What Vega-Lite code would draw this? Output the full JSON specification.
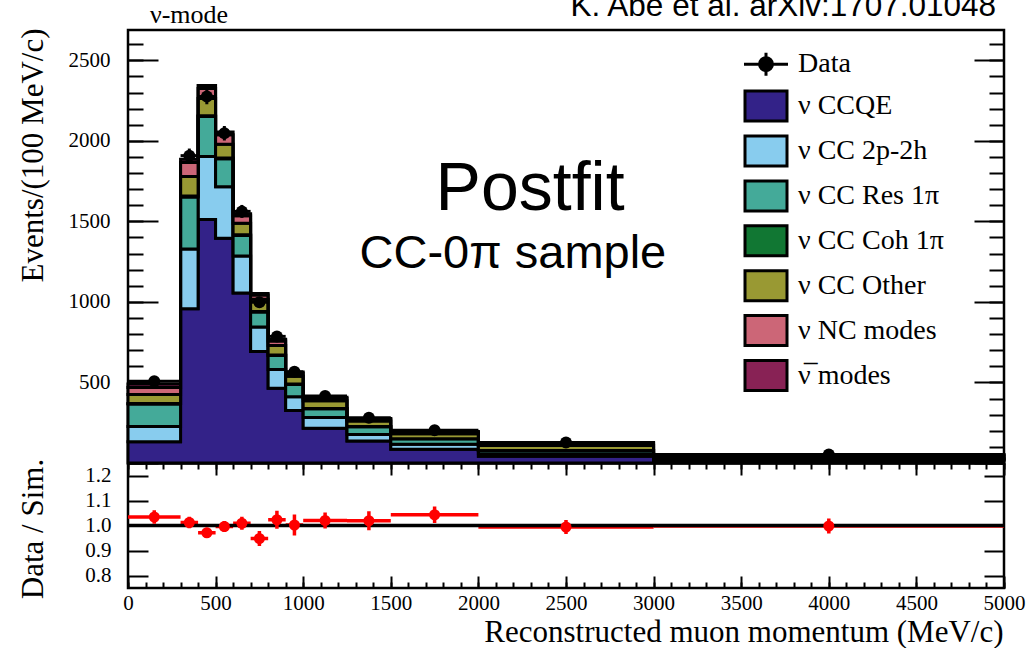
{
  "$schema": "https://vega.github.io/schema/vega-lite/v6.json",
  "width": 876,
  "height": 558,
  "autosize": {"type": "none"},
  "padding": {"left": 128, "top": 30, "right": 25, "bottom": 60},
  "background": "white",
  "config": {
    "view": {"stroke": "black", "strokeWidth": 2.5, "fill": "white"},
    "axis": {
      "grid": false, "domain": false, "tickColor": "black", "tickWidth": 2,
      "labelFont": "Liberation Serif", "labelFontSize": 21, "labelColor": "black",
      "titleFont": "Liberation Serif", "titleFontSize": 31, "titleFontWeight": "normal", "titleColor": "black",
      "labelFlush": false, "labelOverlap": false, "labelBound": false, "zindex": 1
    }
  },
  "datasets": {
    "mc": [
      {"p": 0, "m": "ν CCQE", "k": 1, "n": 132}, {"p": 0, "m": "ν CC 2p-2h", "k": 2, "n": 95}, {"p": 0, "m": "ν CC Res 1π", "k": 3, "n": 139}, {"p": 0, "m": "ν CC Coh 1π", "k": 4, "n": 3}, {"p": 0, "m": "ν CC Other", "k": 5, "n": 56}, {"p": 0, "m": "ν NC modes", "k": 6, "n": 44}, {"p": 0, "m": "ν̅ modes", "k": 7, "n": 21},
      {"p": 300, "m": "ν CCQE", "k": 1, "n": 957}, {"p": 300, "m": "ν CC 2p-2h", "k": 2, "n": 372}, {"p": 300, "m": "ν CC Res 1π", "k": 3, "n": 323}, {"p": 300, "m": "ν CC Coh 1π", "k": 4, "n": 6}, {"p": 300, "m": "ν CC Other", "k": 5, "n": 120}, {"p": 300, "m": "ν NC modes", "k": 6, "n": 87}, {"p": 300, "m": "ν̅ modes", "k": 7, "n": 20},
      {"p": 400, "m": "ν CCQE", "k": 1, "n": 1512}, {"p": 400, "m": "ν CC 2p-2h", "k": 2, "n": 391}, {"p": 400, "m": "ν CC Res 1π", "k": 3, "n": 248}, {"p": 400, "m": "ν CC Coh 1π", "k": 4, "n": 5}, {"p": 400, "m": "ν CC Other", "k": 5, "n": 106}, {"p": 400, "m": "ν NC modes", "k": 6, "n": 63}, {"p": 400, "m": "ν̅ modes", "k": 7, "n": 18},
      {"p": 500, "m": "ν CCQE", "k": 1, "n": 1395}, {"p": 500, "m": "ν CC 2p-2h", "k": 2, "n": 320}, {"p": 500, "m": "ν CC Res 1π", "k": 3, "n": 173}, {"p": 500, "m": "ν CC Coh 1π", "k": 4, "n": 5}, {"p": 500, "m": "ν CC Other", "k": 5, "n": 85}, {"p": 500, "m": "ν NC modes", "k": 6, "n": 60}, {"p": 500, "m": "ν̅ modes", "k": 7, "n": 17},
      {"p": 600, "m": "ν CCQE", "k": 1, "n": 1055}, {"p": 600, "m": "ν CC 2p-2h", "k": 2, "n": 230}, {"p": 600, "m": "ν CC Res 1π", "k": 3, "n": 127}, {"p": 600, "m": "ν CC Coh 1π", "k": 4, "n": 5}, {"p": 600, "m": "ν CC Other", "k": 5, "n": 72}, {"p": 600, "m": "ν NC modes", "k": 6, "n": 46}, {"p": 600, "m": "ν̅ modes", "k": 7, "n": 13},
      {"p": 700, "m": "ν CCQE", "k": 1, "n": 692}, {"p": 700, "m": "ν CC 2p-2h", "k": 2, "n": 152}, {"p": 700, "m": "ν CC Res 1π", "k": 3, "n": 93}, {"p": 700, "m": "ν CC Coh 1π", "k": 4, "n": 4}, {"p": 700, "m": "ν CC Other", "k": 5, "n": 75}, {"p": 700, "m": "ν NC modes", "k": 6, "n": 27}, {"p": 700, "m": "ν̅ modes", "k": 7, "n": 10},
      {"p": 800, "m": "ν CCQE", "k": 1, "n": 464}, {"p": 800, "m": "ν CC 2p-2h", "k": 2, "n": 116}, {"p": 800, "m": "ν CC Res 1π", "k": 3, "n": 88}, {"p": 800, "m": "ν CC Coh 1π", "k": 4, "n": 3}, {"p": 800, "m": "ν CC Other", "k": 5, "n": 59}, {"p": 800, "m": "ν NC modes", "k": 6, "n": 28}, {"p": 800, "m": "ν̅ modes", "k": 7, "n": 10},
      {"p": 900, "m": "ν CCQE", "k": 1, "n": 326}, {"p": 900, "m": "ν CC 2p-2h", "k": 2, "n": 85}, {"p": 900, "m": "ν CC Res 1π", "k": 3, "n": 76}, {"p": 900, "m": "ν CC Coh 1π", "k": 4, "n": 3}, {"p": 900, "m": "ν CC Other", "k": 5, "n": 48}, {"p": 900, "m": "ν NC modes", "k": 6, "n": 19}, {"p": 900, "m": "ν̅ modes", "k": 7, "n": 8},
      {"p": 1000, "m": "ν CCQE", "k": 1, "n": 215}, {"p": 1000, "m": "ν CC 2p-2h", "k": 2, "n": 68}, {"p": 1000, "m": "ν CC Res 1π", "k": 3, "n": 54}, {"p": 1000, "m": "ν CC Coh 1π", "k": 4, "n": 2}, {"p": 1000, "m": "ν CC Other", "k": 5, "n": 47}, {"p": 1000, "m": "ν NC modes", "k": 6, "n": 15}, {"p": 1000, "m": "ν̅ modes", "k": 7, "n": 7},
      {"p": 1250, "m": "ν CCQE", "k": 1, "n": 136}, {"p": 1250, "m": "ν CC 2p-2h", "k": 2, "n": 41}, {"p": 1250, "m": "ν CC Res 1π", "k": 3, "n": 48}, {"p": 1250, "m": "ν CC Coh 1π", "k": 4, "n": 2}, {"p": 1250, "m": "ν CC Other", "k": 5, "n": 33}, {"p": 1250, "m": "ν NC modes", "k": 6, "n": 11}, {"p": 1250, "m": "ν̅ modes", "k": 7, "n": 5},
      {"p": 1500, "m": "ν CCQE", "k": 1, "n": 85}, {"p": 1500, "m": "ν CC 2p-2h", "k": 2, "n": 32}, {"p": 1500, "m": "ν CC Res 1π", "k": 3, "n": 33}, {"p": 1500, "m": "ν CC Coh 1π", "k": 4, "n": 1}, {"p": 1500, "m": "ν CC Other", "k": 5, "n": 30}, {"p": 1500, "m": "ν NC modes", "k": 6, "n": 10}, {"p": 1500, "m": "ν̅ modes", "k": 7, "n": 4},
      {"p": 2000, "m": "ν CCQE", "k": 1, "n": 42}, {"p": 2000, "m": "ν CC 2p-2h", "k": 2, "n": 15}, {"p": 2000, "m": "ν CC Res 1π", "k": 3, "n": 20}, {"p": 2000, "m": "ν CC Coh 1π", "k": 4, "n": 1}, {"p": 2000, "m": "ν CC Other", "k": 5, "n": 30}, {"p": 2000, "m": "ν NC modes", "k": 6, "n": 12}, {"p": 2000, "m": "ν̅ modes", "k": 7, "n": 8},
      {"p": 3000, "m": "ν CCQE", "k": 1, "n": 17}, {"p": 3000, "m": "ν CC 2p-2h", "k": 2, "n": 5}, {"p": 3000, "m": "ν CC Res 1π", "k": 3, "n": 7}, {"p": 3000, "m": "ν CC Coh 1π", "k": 4, "n": 1}, {"p": 3000, "m": "ν CC Other", "k": 5, "n": 13}, {"p": 3000, "m": "ν NC modes", "k": 6, "n": 6}, {"p": 3000, "m": "ν̅ modes", "k": 7, "n": 4},
      {"p": 5000, "m": "ν CCQE", "k": 1, "n": 17}, {"p": 5000, "m": "ν CC 2p-2h", "k": 2, "n": 5}, {"p": 5000, "m": "ν CC Res 1π", "k": 3, "n": 7}, {"p": 5000, "m": "ν CC Coh 1π", "k": 4, "n": 1}, {"p": 5000, "m": "ν CC Other", "k": 5, "n": 13}, {"p": 5000, "m": "ν NC modes", "k": 6, "n": 6}, {"p": 5000, "m": "ν̅ modes", "k": 7, "n": 4}
    ],
    "obs": [
      {"lo": 0, "hi": 300, "mid": 150, "n": 507, "e": 13, "r": 1.034, "re": 0.027},
      {"lo": 300, "hi": 400, "mid": 350, "n": 1908, "e": 44, "r": 1.012, "re": 0.023},
      {"lo": 400, "hi": 500, "mid": 450, "n": 2275, "e": 48, "r": 0.971, "re": 0.02},
      {"lo": 500, "hi": 600, "mid": 550, "n": 2047, "e": 45, "r": 0.996, "re": 0.022},
      {"lo": 600, "hi": 700, "mid": 650, "n": 1562, "e": 40, "r": 1.009, "re": 0.026},
      {"lo": 700, "hi": 800, "mid": 750, "n": 998, "e": 32, "r": 0.948, "re": 0.03},
      {"lo": 800, "hi": 900, "mid": 850, "n": 786, "e": 28, "r": 1.023, "re": 0.036},
      {"lo": 900, "hi": 1000, "mid": 950, "n": 566, "e": 24, "r": 1.002, "re": 0.042},
      {"lo": 1000, "hi": 1250, "mid": 1125, "n": 416, "e": 13, "r": 1.02, "re": 0.032},
      {"lo": 1250, "hi": 1500, "mid": 1375, "n": 281, "e": 11, "r": 1.019, "re": 0.038},
      {"lo": 1500, "hi": 2000, "mid": 1750, "n": 203, "e": 6.4, "r": 1.043, "re": 0.033},
      {"lo": 2000, "hi": 3000, "mid": 2500, "n": 127, "e": 3.6, "r": 0.994, "re": 0.028},
      {"lo": 3000, "hi": 5000, "mid": 4000, "n": 53, "e": 1.6, "r": 0.998, "re": 0.03}
    ]
  },
  "layer": [
    {
      "layer": [
        {
          "data": {"name": "mc"},
          "mark": {"type": "area", "interpolate": "step-after", "stroke": "black", "strokeWidth": 3, "opacity": 1, "fillOpacity": 1},
          "encoding": {
            "x": {"field": "p", "type": "quantitative", "scale": {"domain": [0, 5000], "nice": false, "zero": false}, "axis": null},
            "y": {
              "field": "n", "type": "quantitative", "stack": "zero",
              "scale": {"domain": [0, 2688], "range": [433, 0], "nice": false, "zero": false},
              "axis": {"orient": "left", "values": [500, 1000, 1500, 2000, 2500], "format": "d", "ticks": false, "labelPadding": 18,
                       "title": "Events/(100 MeV/c)", "titleAngle": -90, "titleAlign": "right", "titleBaseline": "alphabetic", "titleX": -86, "titleY": -2}
            },
            "color": {
              "field": "m", "type": "nominal",
              "scale": {
                "domain": ["Data", "ν CCQE", "ν CC 2p-2h", "ν CC Res 1π", "ν CC Coh 1π", "ν CC Other", "ν NC modes", "ν̅ modes"],
                "range": ["#000000", "#332288", "#88CCEE", "#44AA99", "#117733", "#999933", "#CC6677", "#882255"]
              },
              "legend": {
                "orient": "none", "legendX": 621.5, "legendY": 17.7, "direction": "vertical", "title": null, "padding": 0,
                "rowPadding": 1.9, "symbolSize": 900, "symbolType": "M-1.4,-1H1.4V1H-1.4Z",
                "symbolStrokeColor": "black", "symbolStrokeWidth": 3, "symbolOpacity": 1,
                "labelFont": "Liberation Serif", "labelFontSize": 28, "labelColor": "black", "labelOffset": 15.5, "labelLimit": 400,
                "encoding": {
                  "symbols": {
                    "shape": {
                      "condition": {"test": "datum.value === 'Data'", "value": "M-1.467,0H1.467M0,-0.77V0.77M0.43,0A0.43,0.43 0 1,1 -0.43,0A0.43,0.43 0 1,1 0.43,0Z"},
                      "value": "M-1.4,-1H1.4V1H-1.4Z"
                    }
                  }
                }
              }
            },
            "order": {"field": "k", "type": "quantitative", "sort": "ascending"}
          }
        },
        {
          "data": {"name": "obs"},
          "mark": {"type": "rule", "color": "black", "strokeWidth": 3},
          "encoding": {
            "x": {"field": "lo", "type": "quantitative", "axis": null},
            "x2": {"field": "hi"},
            "y": {"field": "n", "type": "quantitative",
                  "axis": {"orient": "left", "values": [0, 500, 1000, 1500, 2000, 2500], "tickSize": -30, "labels": false, "title": null}}
          }
        },
        {
          "data": {"name": "obs"},
          "mark": {"type": "errorbar", "color": "black", "ticks": false, "rule": {"strokeWidth": 3}},
          "encoding": {
            "x": {"field": "mid", "type": "quantitative", "axis": null},
            "y": {"field": "n", "type": "quantitative", "axis": null},
            "yError": {"field": "e"}
          }
        },
        {
          "data": {"name": "obs"},
          "mark": {"type": "point", "shape": "circle", "filled": true, "color": "black", "size": 144, "opacity": 1},
          "encoding": {
            "x": {"field": "mid", "type": "quantitative", "axis": null},
            "y": {"field": "n", "type": "quantitative",
                  "axis": {"orient": "left", "values": [0, 100, 200, 300, 400, 500, 600, 700, 800, 900, 1000, 1100, 1200, 1300, 1400, 1500, 1600, 1700, 1800, 1900, 2000, 2100, 2200, 2300, 2400, 2500, 2600], "tickSize": -15, "labels": false, "title": null}}
          }
        },
        {
          "data": {"values": [{}]},
          "mark": {"type": "text", "font": "Liberation Sans", "fontSize": 68, "align": "center", "baseline": "alphabetic", "color": "black"},
          "encoding": {
            "x": {"datum": 2295, "type": "quantitative",
                  "axis": {"orient": "top", "offset": -433, "values": [0, 100, 200, 300, 400, 500, 600, 700, 800, 900, 1000, 1100, 1200, 1300, 1400, 1500, 1600, 1700, 1800, 1900, 2000, 2100, 2200, 2300, 2400, 2500, 2600, 2700, 2800, 2900, 3000, 3100, 3200, 3300, 3400, 3500, 3600, 3700, 3800, 3900, 4000, 4100, 4200, 4300, 4400, 4500, 4600, 4700, 4800, 4900, 5000], "tickSize": -6, "labels": false, "title": null}},
            "y": {"datum": 1572, "type": "quantitative",
                  "axis": {"orient": "right", "values": [0, 500, 1000, 1500, 2000, 2500], "tickSize": -30, "labels": false, "title": null}},
            "text": {"value": "Postfit"}
          }
        },
        {
          "data": {"values": [{}]},
          "mark": {"type": "text", "font": "Liberation Sans", "fontSize": 47, "align": "center", "baseline": "alphabetic", "color": "black"},
          "encoding": {
            "x": {"datum": 2197, "type": "quantitative", "axis": null},
            "y": {"datum": 1213, "type": "quantitative",
                  "axis": {"orient": "right", "values": [0, 100, 200, 300, 400, 500, 600, 700, 800, 900, 1000, 1100, 1200, 1300, 1400, 1500, 1600, 1700, 1800, 1900, 2000, 2100, 2200, 2300, 2400, 2500, 2600], "tickSize": -15, "labels": false, "title": null}},
            "text": {"value": "CC-0π sample"}
          }
        },
        {
          "data": {"values": [{}]},
          "mark": {"type": "text", "font": "Liberation Serif", "fontSize": 26, "align": "center", "baseline": "alphabetic", "color": "black"},
          "encoding": {
            "x": {"datum": 348, "type": "quantitative",
                  "axis": {"orient": "bottom", "values": [0, 100, 200, 300, 400, 500, 600, 700, 800, 900, 1000, 1100, 1200, 1300, 1400, 1500, 1600, 1700, 1800, 1900, 2000, 2100, 2200, 2300, 2400, 2500, 2600, 2700, 2800, 2900, 3000, 3100, 3200, 3300, 3400, 3500, 3600, 3700, 3800, 3900, 4000, 4100, 4200, 4300, 4400, 4500, 4600, 4700, 4800, 4900, 5000], "tickSize": -6, "labels": false, "title": null}},
            "y": {"datum": 2731, "type": "quantitative", "axis": null},
            "text": {"value": "ν-mode"}
          }
        },
        {
          "data": {"values": [{}]},
          "mark": {"type": "text", "font": "Liberation Sans", "fontSize": 31.5, "align": "right", "baseline": "alphabetic", "color": "black"},
          "encoding": {
            "x": {"datum": 4955, "type": "quantitative",
                  "axis": {"orient": "top", "offset": -433, "values": [0, 500, 1000, 1500, 2000, 2500, 3000, 3500, 4000, 4500, 5000], "tickSize": -12, "labels": false, "title": null,
                           "domain": true, "domainColor": "black", "domainWidth": 2.5}},
            "y": {"datum": 2775, "type": "quantitative", "axis": null},
            "text": {"value": "K. Abe et al. arXiv:1707.01048"}
          }
        }
      ],
      "resolve": {"scale": {"y": "shared"}, "axis": {"x": "independent", "y": "independent"}}
    },
    {
      "layer": [
        {
          "data": {"name": "obs"},
          "mark": {"type": "rule", "color": "#ff0000", "strokeWidth": 3.5},
          "encoding": {
            "x": {"field": "lo", "type": "quantitative",
                  "axis": {"orient": "bottom", "values": [0, 500, 1000, 1500, 2000, 2500, 3000, 3500, 4000, 4500, 5000], "format": "d", "ticks": false, "labelPadding": 4,
                           "title": "Reconstructed muon momentum (MeV/c)", "titleAlign": "right", "titleBaseline": "alphabetic", "titleX": 875, "titleY": 53}},
            "x2": {"field": "hi"},
            "y": {"field": "r", "type": "quantitative",
                  "scale": {"domain": [0.75, 1.25], "range": [558, 433], "nice": false, "zero": false},
                  "axis": {"orient": "left", "values": [0.8, 0.9, 1.1, 1.2], "tickSize": -20, "labels": false, "title": null}}
          }
        },
        {
          "data": {"values": [{}]},
          "mark": {"type": "rule", "color": "black", "strokeWidth": 3.5},
          "encoding": {
            "y": {"datum": 1, "type": "quantitative",
                  "axis": {"orient": "left", "values": [0.8, 0.9, 1.0, 1.1, 1.2], "format": ".1f", "ticks": false, "labelPadding": 17,
                           "title": "Data / Sim.", "titleAngle": -90, "titleAlign": "center", "titleBaseline": "alphabetic", "titleX": -86, "titleY": 498.5}}
          }
        },
        {
          "data": {"name": "obs"},
          "mark": {"type": "errorbar", "color": "#ff0000", "ticks": false, "rule": {"strokeWidth": 3.5}},
          "encoding": {
            "x": {"field": "mid", "type": "quantitative", "axis": null},
            "y": {"field": "r", "type": "quantitative", "axis": null},
            "yError": {"field": "re"}
          }
        },
        {
          "data": {"name": "obs"},
          "mark": {"type": "point", "shape": "circle", "filled": true, "color": "#ff0000", "size": 121, "opacity": 1},
          "encoding": {
            "x": {"field": "mid", "type": "quantitative",
                  "axis": {"orient": "bottom", "values": [0, 500, 1000, 1500, 2000, 2500, 3000, 3500, 4000, 4500, 5000], "tickSize": -12, "labels": false, "title": null}},
            "y": {"field": "r", "type": "quantitative",
                  "axis": {"orient": "right", "values": [0.8, 0.9, 1.1, 1.2], "tickSize": -20, "labels": false, "title": null}}
          }
        }
      ],
      "resolve": {"scale": {"y": "shared"}, "axis": {"x": "independent", "y": "independent"}}
    }
  ],
  "resolve": {"scale": {"y": "independent"}, "axis": {"x": "independent", "y": "independent"}}
}
